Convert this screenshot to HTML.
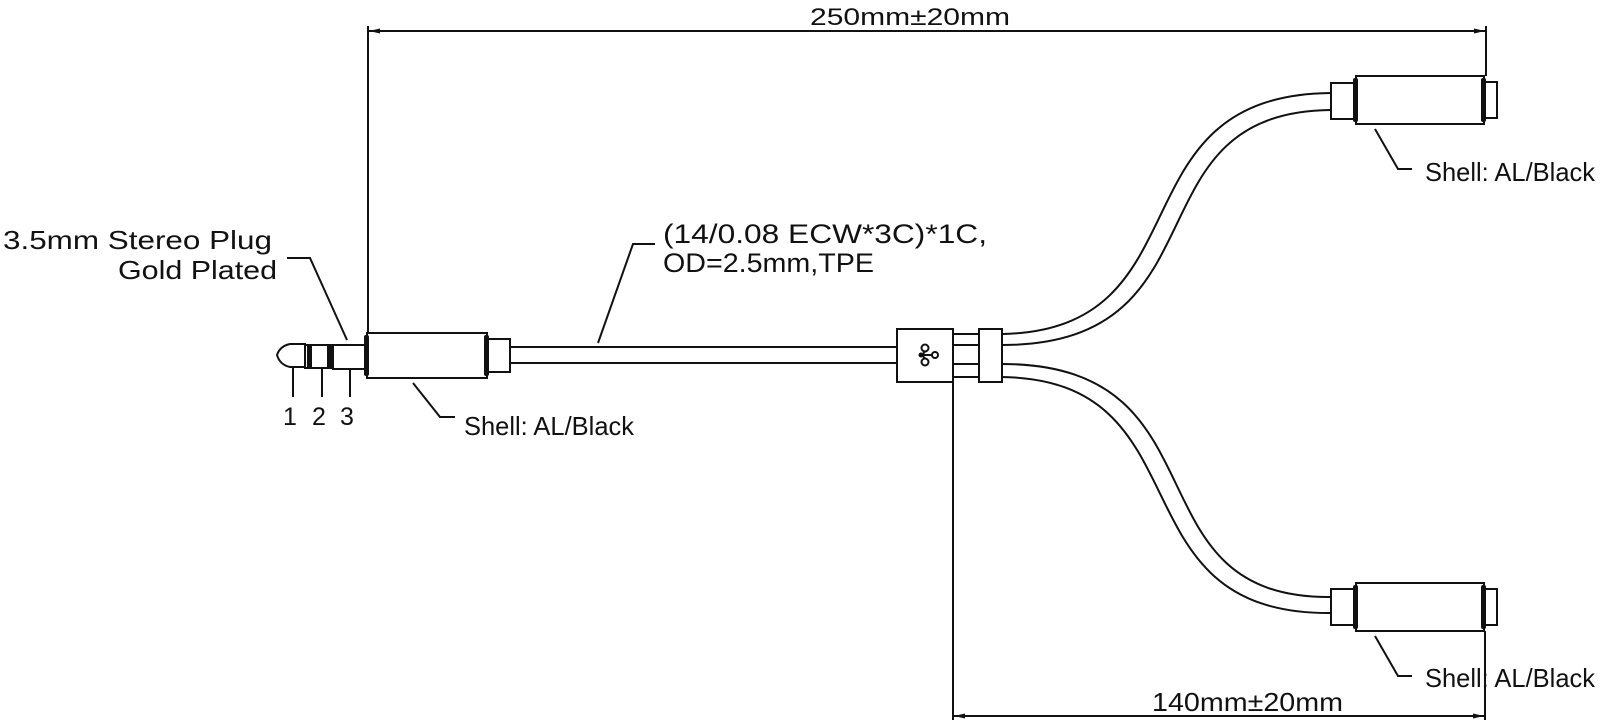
<!DOCTYPE html>
<html><head><meta charset="utf-8"><style>
html,body{margin:0;padding:0;background:#fff;}
svg{display:block;}
text{font-family:"Liberation Sans",sans-serif;fill:#111;}
</style></head><body>
<svg width="1600" height="725" viewBox="0 0 1600 725" xmlns="http://www.w3.org/2000/svg">
<g fill="none" stroke="#111" stroke-width="2">
<!-- top dimension -->
<line x1="368" y1="31" x2="1486" y2="31"/>
<line x1="368" y1="26" x2="368" y2="333"/>
<line x1="1486" y1="26" x2="1486" y2="76"/>
<!-- bottom dimension -->
<line x1="953" y1="716" x2="1485" y2="716"/>
<line x1="953" y1="382" x2="953" y2="720"/>
<line x1="1485" y1="631" x2="1485" y2="720"/>
</g>
<g fill="#111">
<polygon points="369,31 380,28.5 380,33.5"/>
<polygon points="1485,31 1474,28.5 1474,33.5"/>
<polygon points="954,716 965,713.5 965,718.5"/>
<polygon points="1484,716 1473,713.5 1473,718.5"/>
</g>

<!-- plug -->
<g fill="#fff" stroke="#111" stroke-width="2">
<path d="M305,344 L290,344 Q280,346 277,355 Q280,365 290,367 L305,367 Z"/>
<rect x="305" y="345" width="28" height="23"/>
<rect x="333" y="345" width="34" height="24"/>
<rect x="367" y="333" width="120" height="45"/>
<rect x="487" y="339" width="23" height="33"/>
</g>
<g fill="#111">
<rect x="307" y="344" width="5" height="25"/>
<rect x="327" y="344" width="5" height="25"/>
<rect x="364" y="335" width="5" height="41" rx="2"/>
<rect x="484" y="335" width="5" height="41" rx="2"/>
</g>
<g fill="none" stroke="#111" stroke-width="2">
<line x1="510" y1="347" x2="897" y2="347"/>
<line x1="510" y1="363" x2="897" y2="363"/>
<!-- number leaders -->
<line x1="293" y1="367" x2="293" y2="397"/>
<line x1="322" y1="368" x2="322" y2="397"/>
<line x1="350" y1="369" x2="350" y2="397"/>
<!-- splitter -->
<rect x="897" y="329" width="56" height="53" fill="#fff"/>
<line x1="953" y1="334" x2="979" y2="334"/>
<line x1="953" y1="345" x2="979" y2="345"/>
<line x1="953" y1="364" x2="979" y2="364"/>
<line x1="953" y1="377" x2="979" y2="377"/>
<rect x="979" y="329" width="23" height="53" fill="#fff"/>
<!-- branch cables -->
<path d="M1002,334 C1210,330 1110,95 1331,93"/>
<path d="M1002,345 C1230,345 1125,112 1331,110"/>
<path d="M1002,364 C1230,364 1125,599 1331,597"/>
<path d="M1002,377 C1210,380 1110,615 1331,613"/>
</g>
<!-- splitter symbol -->
<g fill="none" stroke="#111" stroke-width="2">
<circle cx="925" cy="348" r="3.5"/>
<circle cx="925" cy="362" r="3.5"/>
<circle cx="935" cy="355" r="3"/>
<path d="M925,351.5 L922,355 L925,358.5 M922,355 L932,355"/>
</g>
<circle cx="921" cy="355" r="2.5" fill="#111"/>

<!-- top jack -->
<g fill="#fff" stroke="#111" stroke-width="2">
<rect x="1331" y="83" width="25" height="36"/>
<rect x="1356" y="76" width="128" height="48"/>
<rect x="1484" y="82" width="13" height="36"/>
</g>
<g fill="#111">
<rect x="1353" y="78" width="5" height="44" rx="2"/>
<rect x="1481" y="78" width="5" height="44" rx="2"/>
</g>
<!-- bottom jack -->
<g fill="#fff" stroke="#111" stroke-width="2">
<rect x="1331" y="589" width="25" height="36"/>
<rect x="1356" y="583" width="128" height="48"/>
<rect x="1484" y="589" width="13" height="36"/>
</g>
<g fill="#111">
<rect x="1353" y="585" width="5" height="44" rx="2"/>
<rect x="1481" y="585" width="5" height="44" rx="2"/>
</g>

<!-- leaders -->
<g fill="none" stroke="#111" stroke-width="2">
<polyline points="287,258 310,258 347,340"/>
<polyline points="655,244 633,244 598,343"/>
<polyline points="413,383 440,417 455,417"/>
<polyline points="1375,129 1398,169 1412,169"/>
<polyline points="1375,636 1398,676 1412,676"/>
</g>

<!-- texts -->
<text x="810" y="25" font-size="24" textLength="200" lengthAdjust="spacingAndGlyphs">250mm±20mm</text>
<text x="1152" y="711" font-size="26" textLength="191" lengthAdjust="spacingAndGlyphs">140mm±20mm</text>
<text x="3" y="249" font-size="26" textLength="269" lengthAdjust="spacingAndGlyphs">3.5mm Stereo  Plug</text>
<text x="118" y="279" font-size="26" textLength="159" lengthAdjust="spacingAndGlyphs">Gold  Plated</text>
<text x="663" y="243" font-size="27" textLength="324" lengthAdjust="spacingAndGlyphs">(14/0.08  ECW*3C)*1C,</text>
<text x="663" y="272" font-size="27" textLength="211" lengthAdjust="spacingAndGlyphs">OD=2.5mm,TPE</text>
<text x="283" y="425" font-size="25">1</text>
<text x="312" y="425" font-size="25">2</text>
<text x="340" y="425" font-size="25">3</text>
<text x="464" y="435" font-size="26" textLength="170" lengthAdjust="spacingAndGlyphs">Shell: AL/Black</text>
<text x="1425" y="181" font-size="26" textLength="170" lengthAdjust="spacingAndGlyphs">Shell: AL/Black</text>
<text x="1425" y="687" font-size="26" textLength="170" lengthAdjust="spacingAndGlyphs">Shell: AL/Black</text>
</svg>
</body></html>
